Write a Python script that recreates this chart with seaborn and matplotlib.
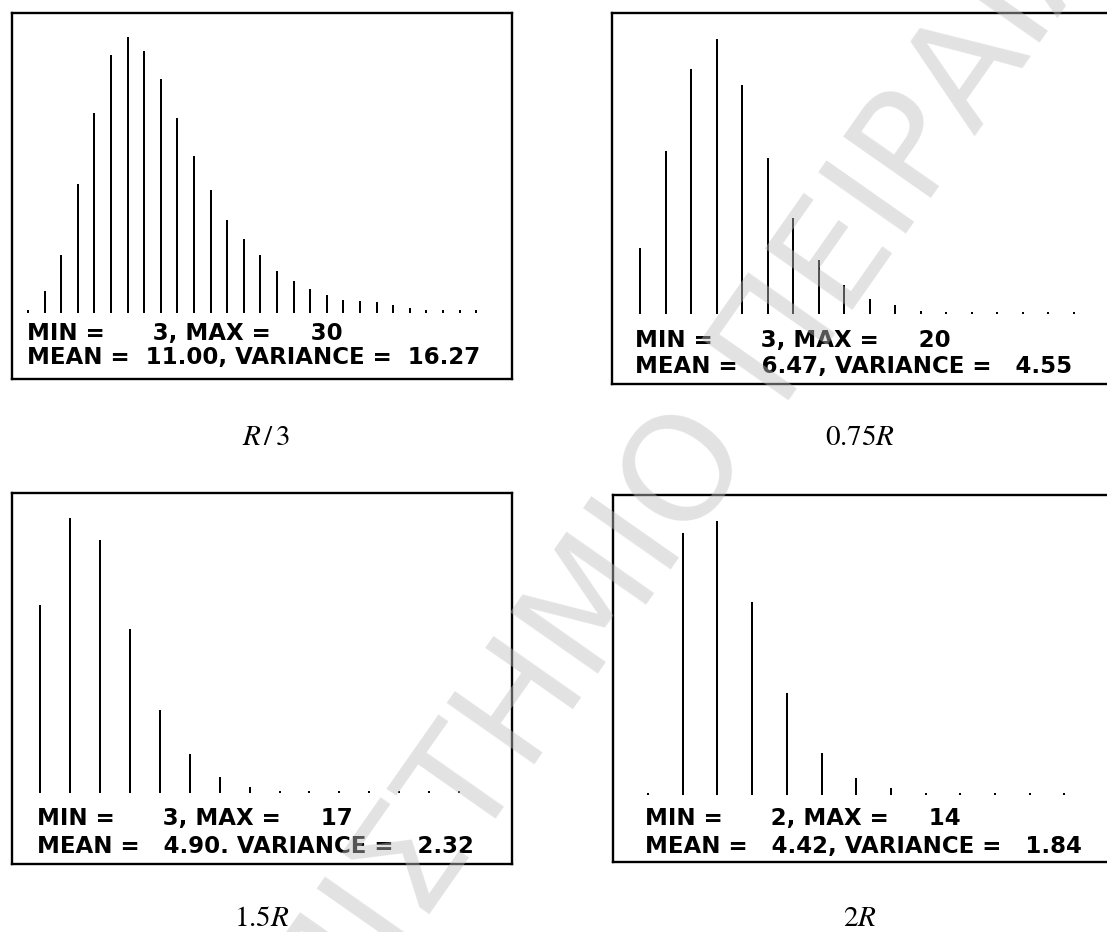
import matplotlib
matplotlib.use("Agg")
import matplotlib.pyplot as plt
import seaborn as sns
import numpy as np

# ---------------- data ----------------
values_1 = list(range(3, 31))
freq_1 = [10, 65, 173, 389, 602, 776, 830, 788, 704, 585, 472, 370, 280, 222,
          173, 125, 95, 72, 54, 40, 36, 32, 24, 16, 10, 8, 8, 8]
values_2 = list(range(3, 21))
freq_2 = [199, 490, 735, 825, 688, 467, 288, 163, 86, 44, 27, 10, 6, 6, 6, 6, 6, 6]
values_3 = list(range(3, 18))
freq_3 = [565, 827, 760, 493, 250, 118, 50, 18, 6, 6, 6, 6, 6, 6, 6]
values_4 = list(range(2, 15))
freq_4 = [6, 787, 823, 578, 305, 127, 50, 20, 7, 5, 5, 5, 5]

mins = [3, 3, 3, 2]
maxs = [30, 20, 17, 14]
means = [11.00, 6.47, 4.90, 4.42]
variances = [16.27, 4.55, 2.32, 1.84]
separators = [",", ",", ".", ","]
captions = [r"$R\,/\,3$", r"$0.75R$", r"$1.5R$", r"$2R$"]
watermark = "ΠΑΝΕΠΙΣΤΗΜΙΟ ΠΕΙΡΑΙΑ"

# ---------------- layout ----------------
W, H = 1107, 932
sns.set_style("white")
plt.rcParams["mathtext.fontset"] = "stix"
fig = plt.figure(figsize=(W / 100, H / 100), dpi=100)
fig.patch.set_facecolor("white")

# (left, top, right, bottom) in pixels
boxes = [(12, 13, 512, 379), (612, 13, 1112, 384),
         (12, 493, 512, 864), (613, 495, 1113, 862)]
xlims = [(2.04, 32.16), (1.90, 21.49), (2.06, 18.77), (0.99, 15.40)]
ylims = [(-198, 901), (-210, 903), (-212, 901), (-201, 900)]
text_x = [27, 635, 37, 645]
text_base = [(340, 364), (347, 373), (825, 853), (825, 853)]
cap_pos = [(266, 445), (860, 445), (262, 926), (860, 926)]

series = [(values_1, freq_1), (values_2, freq_2), (values_3, freq_3), (values_4, freq_4)]

for i, ((l, t, r, b), (vals, freq)) in enumerate(zip(boxes, series)):
    ax = fig.add_axes([l / W, 1 - b / H, (r - l) / W, (b - t) / H])
    xmin, xmax = xlims[i]
    pitch_px = (r - l) / (xmax - xmin)
    sns.barplot(x=vals, y=freq, native_scale=True, width=2.0 / pitch_px,
                color="black", saturation=1, linewidth=0, errorbar=None,
                antialiased=False, ax=ax)
    ax.set_xlim(xmin, xmax)
    ax.set_ylim(*ylims[i])
    ax.set_xticks([])
    ax.set_yticks([])
    ax.set_xlabel("")
    ax.set_ylabel("")
    for sp in ax.spines.values():
        sp.set_visible(True)
        sp.set_color("black")
        sp.set_linewidth(1.7)

    line1 = f"MIN = {mins[i]:6d}, MAX = {maxs[i]:6d}"
    line2 = f"MEAN = {means[i]:6.2f}{separators[i]} VARIANCE = {variances[i]:6.2f}"
    for txt, yb in zip((line1, line2), text_base[i]):
        fig.text(text_x[i] / W, 1 - yb / H, txt, ha="left", va="baseline",
                 fontsize=16.5, fontweight="bold", family="DejaVu Sans", color="black")

    cx, cy = cap_pos[i]
    fig.text(cx / W, 1 - cy / H, captions[i], ha="center", va="baseline",
             fontsize=21, color="black")

fig.text(572 / W, 1 - 641 / H, watermark, rotation=55, rotation_mode="anchor",
         ha="center", va="center", fontsize=106, family="DejaVu Sans",
         fontweight="normal", color="#c0c0c0", alpha=0.45, zorder=10)

fig.savefig("out.png", dpi=100, facecolor="white")
